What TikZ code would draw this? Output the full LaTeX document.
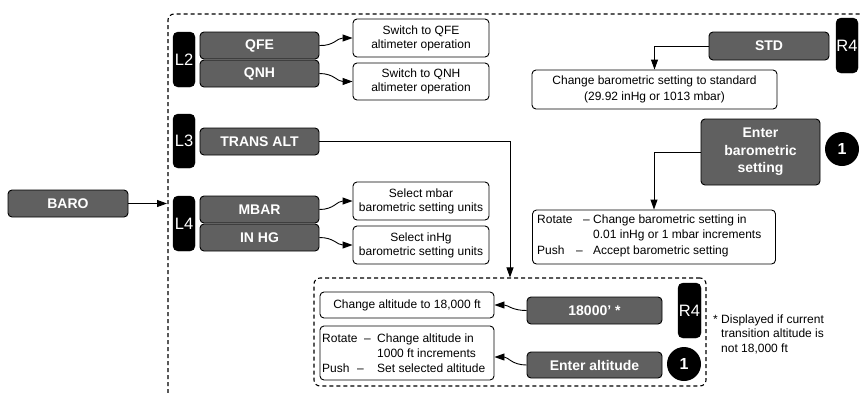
\documentclass[tikz,border=0pt]{standalone}
\usepackage{fontspec}
\setmainfont{Liberation Sans}
\usetikzlibrary{arrows.meta,calc}
\definecolor{boxgray}{RGB}{96,96,96}
\begin{document}
\begin{tikzpicture}[x=1pt,y=-1pt,
  gbox/.style={draw=black, fill=boxgray, rounded corners=4pt, line width=0.9pt, text=white, font=\bfseries\fontsize{14}{17.5}\selectfont, inner sep=0pt, align=center},
  wbox/.style={draw=black, fill=white, rounded corners=4pt, line width=0.9pt, font=\fontsize{12}{14}\selectfont, inner sep=0pt, align=center},
  tabbox/.style={draw=black, fill=black, rounded corners=5pt, text=white, font=\fontsize{16.5}{18}\selectfont, inner sep=0pt, minimum width=22pt, minimum height=55pt},
  numdot/.style={circle, fill=black, text=white, font=\bfseries\fontsize{16}{18}\selectfont, minimum size=34pt, inner sep=0pt},
  txt/.style={font=\fontsize{12}{14}\selectfont, inner sep=0pt, anchor=base west},
  conn/.style={line width=0.9pt, -{Triangle[length=10pt,width=7pt]}},
  dashbox/.style={draw=black, line width=1.1pt, dash pattern=on 4pt off 3pt, rounded corners=6pt}
]
\useasboundingbox (0,0) rectangle (861,392);

% outer dashed group
\draw[dashbox] (168,393) -- (168,14) -- (862,14);
\coordinate (outerin) at (167,203.5);

% BARO
\node[gbox, minimum width=120pt, minimum height=27pt] (baro) at (68,203.5) {BARO};
\draw[conn] (baro.east) -- (outerin);

% L2
\node[tabbox] (l2) at (184,59.5) {L2};
\node[gbox, minimum width=119pt, minimum height=27pt] (qfe) at (259.5,45.5) {QFE};
\node[gbox, minimum width=119pt, minimum height=27pt] (qnh) at (259.5,73.5) {QNH};
\node[wbox, minimum width=136pt, minimum height=38pt] (sw1) at (421,38) {Switch to QFE\\altimeter operation};
\node[wbox, minimum width=136pt, minimum height=37pt] (sw2) at (421,81.5) {Switch to QNH\\altimeter operation};
\draw[conn] (qfe.east) .. controls (334,46) and (337,38) .. (sw1.west);
\draw[conn] (qnh.east) .. controls (334,73.5) and (337,81.5) .. (sw2.west);

% L3
\node[tabbox, minimum height=54pt] (l3) at (184,141) {L3};
\node[gbox, minimum width=119pt, minimum height=27pt] (trans) at (259.5,141.5) {TRANS ALT};

% L4
\node[tabbox] (l4) at (184,223.5) {L4};
\node[gbox, minimum width=119pt, minimum height=27pt] (mbar) at (259.5,209.5) {MBAR};
\node[gbox, minimum width=119pt, minimum height=27pt] (inhg) at (259.5,237.5) {IN HG};
\node[wbox, minimum width=136pt, minimum height=38pt] (sel1) at (421,201) {Select mbar\\barometric setting units};
\node[wbox, minimum width=136pt, minimum height=38pt] (sel2) at (421,245) {Select inHg\\barometric setting units};
\draw[conn] (mbar.east) .. controls (334,209.5) and (337,201) .. (sel1.west);
\draw[conn] (inhg.east) .. controls (334,237.5) and (337,245) .. (sel2.west);

% right top
\node[tabbox] (r4a) at (847,45.5) {R4};
\node[gbox, minimum width=120pt, minimum height=28pt] (std) at (769,46) {STD};
\node[wbox, minimum width=245pt, minimum height=39pt, font=\fontsize{12}{16}\selectfont] (chbaro) at (654.5,89.5) {Change barometric setting to standard\\(29.92 inHg or 1013 mbar)};
\draw[conn] (std.west) -| (chbaro.north);

\node[gbox, minimum width=119pt, minimum height=66pt] (entbaro) at (760.5,152) {Enter\\barometric\\setting};
\node[numdot] (n1a) at (842,149) {1};
\node[wbox, minimum width=243pt, minimum height=54pt] (rotbaro) at (654,237) {};
\node[txt] (rb1) at (537,223) {Rotate};
\node[txt] (rb1d) at (583,223) {\textendash};
\node[txt] (rb2) at (593,223) {Change barometric setting in};
\node[txt] (rb3) at (593,238) {0.01 inHg or 1 mbar increments};
\node[txt] (rb4) at (537,254) {Push};
\node[txt] (rb5) at (576,254) {\textendash};
\node[txt] (rb6) at (593,254) {Accept barometric setting};
\draw[conn] (entbaro.west) -| (rotbaro.north);

% inner dashed group
\node[dashbox, minimum width=392pt, minimum height=108pt, inner sep=0pt] (altgrp) at (510,332) {};
\draw[conn] (trans.east) -| (altgrp.north);

\node[wbox, minimum width=174pt, minimum height=26pt] (chalt) at (407,305) {Change altitude to 18,000 ft};
\node[wbox, minimum width=174pt, minimum height=54pt] (rotalt) at (407,353) {};
\node[txt] (ra1) at (322,342) {Rotate};
\node[txt] (ra1d) at (364,342) {\textendash};
\node[txt] (ra2) at (377,342) {Change altitude in};
\node[txt] (ra3) at (377,357) {1000 ft increments};
\node[txt] (ra4) at (322,372) {Push};
\node[txt] (ra5) at (357,372) {\textendash};
\node[txt] (ra6) at (377,372) {Set selected altitude};

\node[gbox, minimum width=135pt, minimum height=27pt] (b18) at (594.5,310.5) {18000' *};
\node[tabbox, minimum width=23pt] (r4b) at (689.5,310.5) {R4};
\node[gbox, minimum width=135pt, minimum height=26pt] (entalt) at (594.5,365) {Enter altitude};
\node[numdot] (n1b) at (684,364) {1};
\coordinate (rotaltin) at ($(rotalt.east)+(0,4)$);
\draw[conn] (b18.west) .. controls (512,310.5) and (508,305) .. (chalt.east);
\draw[conn] (entalt.west) .. controls (512,365) and (508,357) .. (rotaltin);

% footnote
\node[txt] (fnstar) at (713,323) {*};
\node[txt] (fn1) at (721,323) {Displayed if current};
\node[txt] (fn2) at (721,337) {transition altitude is};
\node[txt] (fn3) at (721,352) {not 18,000 ft};
\end{tikzpicture}
\end{document}
